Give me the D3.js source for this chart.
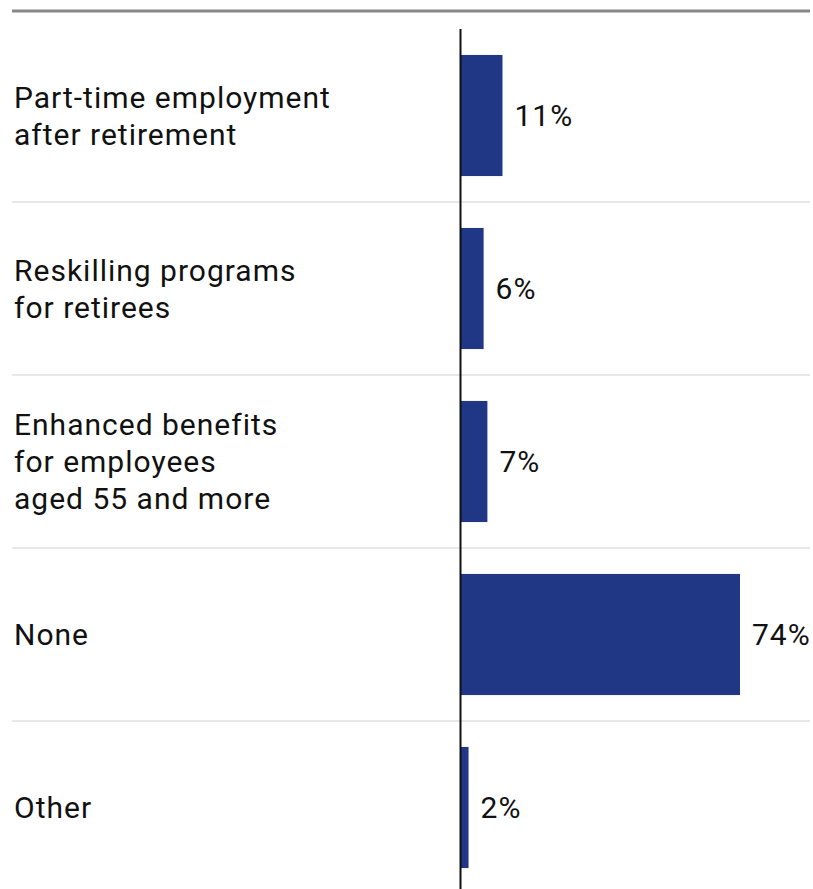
<!DOCTYPE html>
<html>
<head>
<meta charset="utf-8">
<script src="https://cdn.jsdelivr.net/npm/d3@7"></script>
<style>
  html, body { margin: 0; padding: 0; background: #fff; }
  svg { display: block; font-family: Roboto, "Noto Sans", sans-serif; }
</style>
</head>
<body>
<svg id="chart" width="813" height="889"></svg>
<script>
// Answer categories (multi-line labels) and shares in percent
const categories = [
  ["Part-time employment", "after retirement"],
  ["Reskilling programs", "for retirees"],
  ["Enhanced benefits", "for employees", "aged 55 and more"],
  ["None"],
  ["Other"]
];
const values = [11, 6, 7, 74, 2];
const valueLabels = ["11%", "6%", "7%", "74%", "2%"];

const svg = d3.select("#chart");
const W = 813, H = 889;

const rowTop = 29, rowStep = 173;
const ids = d3.range(categories.length);

const y = d3.scaleBand()
  .domain(ids)
  .range([rowTop, rowTop + rowStep * ids.length])
  .paddingInner(0.3)
  .paddingOuter(0.15);

const x0 = 461;
const x = d3.scaleLinear().domain([0, 74]).range([x0, 740]);

// top rule
svg.append("line")
  .attr("x1", 12).attr("x2", 810)
  .attr("y1", 11).attr("y2", 11)
  .attr("stroke", "#888").attr("stroke-width", 3);

// row separators
svg.selectAll("line.sep")
  .data(ids.slice(1))
  .join("line")
  .attr("class", "sep")
  .attr("x1", 12).attr("x2", 810)
  .attr("y1", d => rowTop + rowStep * d)
  .attr("y2", d => rowTop + rowStep * d)
  .attr("stroke", "#e0e0e0").attr("stroke-width", 1.5);

// bars
svg.selectAll("rect.bar")
  .data(ids)
  .join("rect")
  .attr("class", "bar")
  .attr("x", x(0))
  .attr("y", d => y(d))
  .attr("width", d => x(values[d]) - x(0))
  .attr("height", y.bandwidth())
  .attr("fill", "#1f3784");

// baseline axis
svg.append("line")
  .attr("x1", x0 - 0.5).attr("x2", x0 - 0.5)
  .attr("y1", rowTop).attr("y2", H)
  .attr("stroke", "#111").attr("stroke-width", 2);

// category labels
const lineH = 37;
const fs = 30;
const ls = "1px";
svg.selectAll("text.cat")
  .data(ids)
  .join("text")
  .attr("class", "cat")
  .attr("x", 14)
  .attr("font-size", fs)
  .attr("letter-spacing", ls)
  .attr("fill", "#111")
  .each(function(d) {
    const lines = categories[d];
    const cy = y(d) + y.bandwidth() / 2;
    const startY = cy - (lines.length - 1) * lineH / 2;
    d3.select(this).selectAll("tspan")
      .data(lines)
      .join("tspan")
      .attr("x", 14)
      .attr("y", (l, i) => startY + i * lineH)
      .attr("dy", "0.35em")
      .text(l => l);
  });

// value labels
svg.selectAll("text.val")
  .data(ids)
  .join("text")
  .attr("class", "val")
  .attr("x", d => x(values[d]) + 12)
  .attr("y", d => y(d) + y.bandwidth() / 2)
  .attr("dy", "0.35em")
  .attr("font-size", fs)
  .attr("letter-spacing", ls)
  .attr("fill", "#111")
  .text(d => valueLabels[d]);
</script>
</body>
</html>
